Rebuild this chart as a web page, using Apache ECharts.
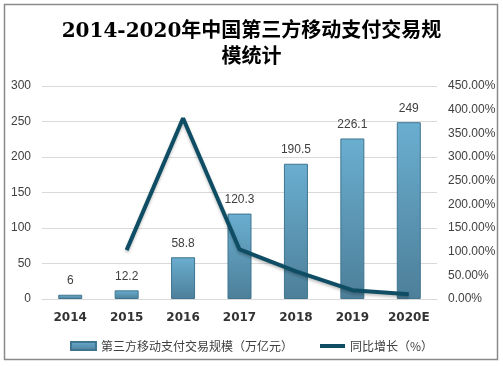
<!DOCTYPE html>
<html><head><meta charset="utf-8">
<script src="https://cdn.jsdelivr.net/npm/echarts@6/dist/echarts.min.js"></script>
<style>html,body{margin:0;padding:0;background:#fff}#c{width:503px;height:366px}</style>
</head><body><div id="c"></div>
<script>
const categories = ['2014','2015','2016','2017','2018','2019','2020E'];
const scaleValues = [6, 12.2, 58.8, 120.3, 190.5, 226.1, 249];
const growthValues = [null, 103.3, 382.0, 104.6, 58.4, 18.7, 10.1];
const seriesNames = ['第三方移动支付交易规模（万亿元）', '同比增长（%）'];
const titleText = '2014-2020年中国第三方移动支付交易规\n模统计';

const chart = echarts.init(document.getElementById('c'));
const barGrad = new echarts.graphic.LinearGradient(0,0,0,1,[{offset:0,color:'#6aaed0'},{offset:1,color:'#4d7f99'}]);
chart.setOption({
  animation:false,
  graphic:[{type:'rect',shape:{x:4.5,y:4.5,width:493,height:355},style:{fill:'none',stroke:'#8a8a8a',lineWidth:1.5}}],
  title:{text:titleText,left:'center',top:14,textStyle:{fontFamily:'"DejaVu Serif","Noto Sans CJK SC",serif',fontSize:20,fontWeight:'bold',color:'#000',lineHeight:26}},
  grid:{left:42,right:66,top:86,bottom:67},
  legend:{bottom:9,left:'center',itemGap:27,itemWidth:25,itemHeight:8,textStyle:{fontSize:12,color:'#404040',fontFamily:'"Noto Sans CJK SC",sans-serif'},
    data:[{name:seriesNames[0],icon:'rect'},{name:seriesNames[1],icon:'path://M0,0H25V4H0Z'}]},
  xAxis:{type:'category',data:categories,axisTick:{show:false},axisLine:{lineStyle:{color:'#d9d9d9'}},
    axisLabel:{fontSize:12,fontWeight:'bold',color:'#333',margin:13,fontFamily:'"DejaVu Sans",sans-serif'}},
  yAxis:[
    {type:'value',min:0,max:300,interval:50,axisLine:{show:false},axisTick:{show:false},splitLine:{lineStyle:{color:'#d9d9d9'}},
     axisLabel:{fontSize:12,color:'#404040',margin:11}},
    {type:'value',min:0,max:450,interval:50,axisLine:{show:false},axisTick:{show:false},splitLine:{show:false},
     axisLabel:{fontSize:12,color:'#404040',margin:11,formatter:v=>v.toFixed(2)+'%'}}
  ],
  series:[
    {name:seriesNames[0],type:'bar',data:scaleValues,barWidth:24,yAxisIndex:0,
     itemStyle:{color:barGrad,borderColor:'#3f7590',borderWidth:1},
     label:{show:true,position:'top',distance:8,fontSize:12,color:'#404040'}},
    {name:seriesNames[1],type:'line',data:growthValues,yAxisIndex:1,symbol:'none',
     lineStyle:{color:'#0e4d63',width:4,shadowColor:'rgba(0,0,0,0.25)',shadowBlur:3,shadowOffsetY:2},itemStyle:{color:'#0e4d63'}}
  ]
});
</script></body></html>
